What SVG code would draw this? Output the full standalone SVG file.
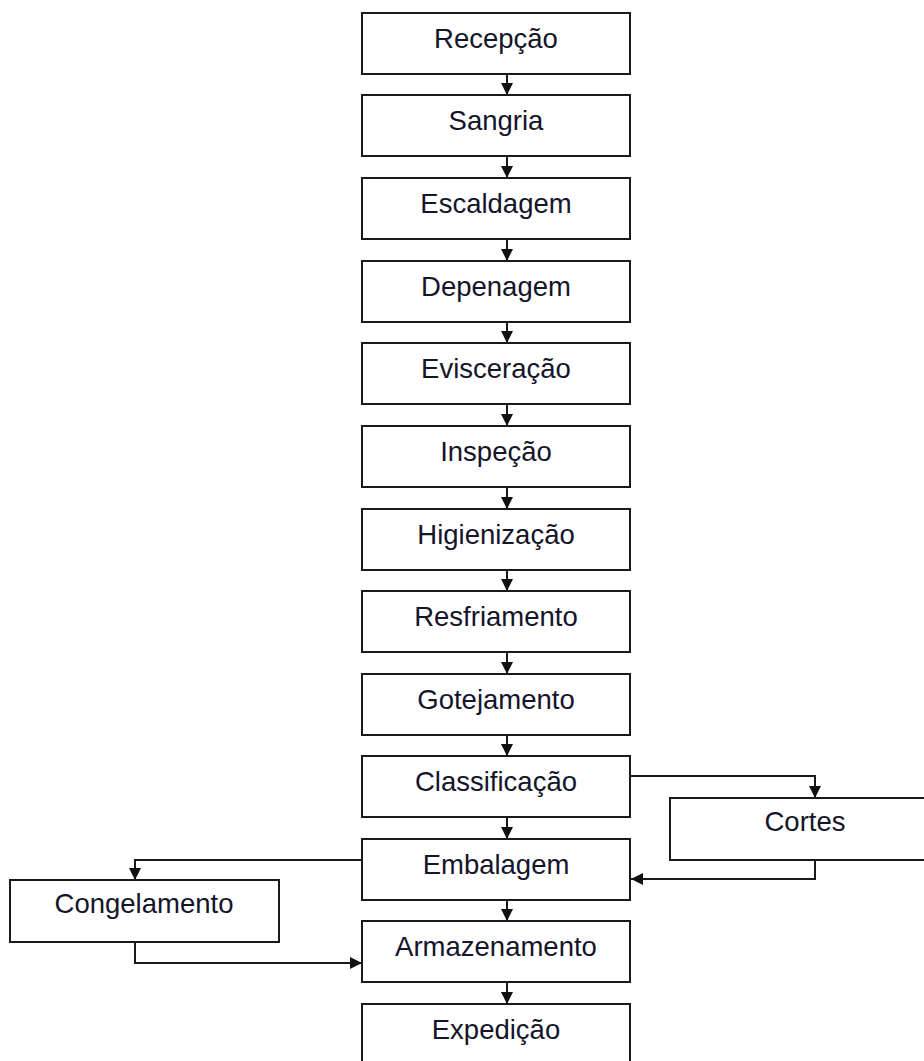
<svg xmlns="http://www.w3.org/2000/svg" width="924" height="1061" viewBox="0 0 924 1061">
<style>
  .box rect { fill: #fff; stroke: #1a1a1a; stroke-width: 2; }
  .box text { font-family: "Liberation Sans", Arial, sans-serif; font-size: 27.5px; fill: #14142a; text-anchor: middle; }
  .conn path { fill: none; stroke: #1a1a1a; stroke-width: 2; marker-end: url(#ah); }
</style>
<defs>
  <marker id="ah" markerUnits="userSpaceOnUse" markerWidth="12" markerHeight="12" refX="11" refY="5.5" orient="auto" viewBox="0 0 11 11">
    <path d="M0,0 L11,5.5 L0,11 z" fill="#111"/>
  </marker>
</defs>
<rect width="924" height="1061" fill="#fff"/>
<g id="connectors" class="conn">
  <path d="M507,74 V95"/>
  <path d="M507,156 V178"/>
  <path d="M507,239 V261"/>
  <path d="M507,322 V343"/>
  <path d="M507,404 V426"/>
  <path d="M507,487 V509"/>
  <path d="M507,570 V591"/>
  <path d="M507,652 V674"/>
  <path d="M507,735 V756"/>
  <path d="M507,817 V839"/>
  <path d="M507,900 V921"/>
  <path d="M507,982 V1004"/>
  <path d="M630,776 H815 V798"/>
  <path d="M815,860 V879 H631"/>
  <path d="M362,860 H135 V880"/>
  <path d="M135,942 V963 H362"/>
</g>
<g id="n1" class="box"><rect x="362" y="13" width="268" height="61"/><text x="496" y="48">Recepção</text></g>
<g id="n2" class="box"><rect x="362" y="95" width="268" height="61"/><text x="496" y="130">Sangria</text></g>
<g id="n3" class="box"><rect x="362" y="178" width="268" height="61"/><text x="496" y="213">Escaldagem</text></g>
<g id="n4" class="box"><rect x="362" y="261" width="268" height="61"/><text x="496" y="296">Depenagem</text></g>
<g id="n5" class="box"><rect x="362" y="343" width="268" height="61"/><text x="496" y="378">Evisceração</text></g>
<g id="n6" class="box"><rect x="362" y="426" width="268" height="61"/><text x="496" y="461">Inspeção</text></g>
<g id="n7" class="box"><rect x="362" y="509" width="268" height="61"/><text x="496" y="544">Higienização</text></g>
<g id="n8" class="box"><rect x="362" y="591" width="268" height="61"/><text x="496" y="626">Resfriamento</text></g>
<g id="n9" class="box"><rect x="362" y="674" width="268" height="61"/><text x="496" y="709">Gotejamento</text></g>
<g id="n10" class="box"><rect x="362" y="756" width="268" height="61"/><text x="496" y="791">Classificação</text></g>
<g id="n11" class="box"><rect x="362" y="839" width="268" height="61"/><text x="496" y="874">Embalagem</text></g>
<g id="n12" class="box"><rect x="362" y="921" width="268" height="61"/><text x="496" y="956">Armazenamento</text></g>
<g id="n13" class="box"><rect x="362" y="1004" width="268" height="70"/><text x="496" y="1039">Expedição</text></g>
<g id="n14" class="box"><rect x="670" y="798" width="272" height="62"/><text x="805" y="831">Cortes</text></g>
<g id="n15" class="box"><rect x="10" y="880" width="269" height="62"/><text x="144" y="913">Congelamento</text></g>
</svg>
